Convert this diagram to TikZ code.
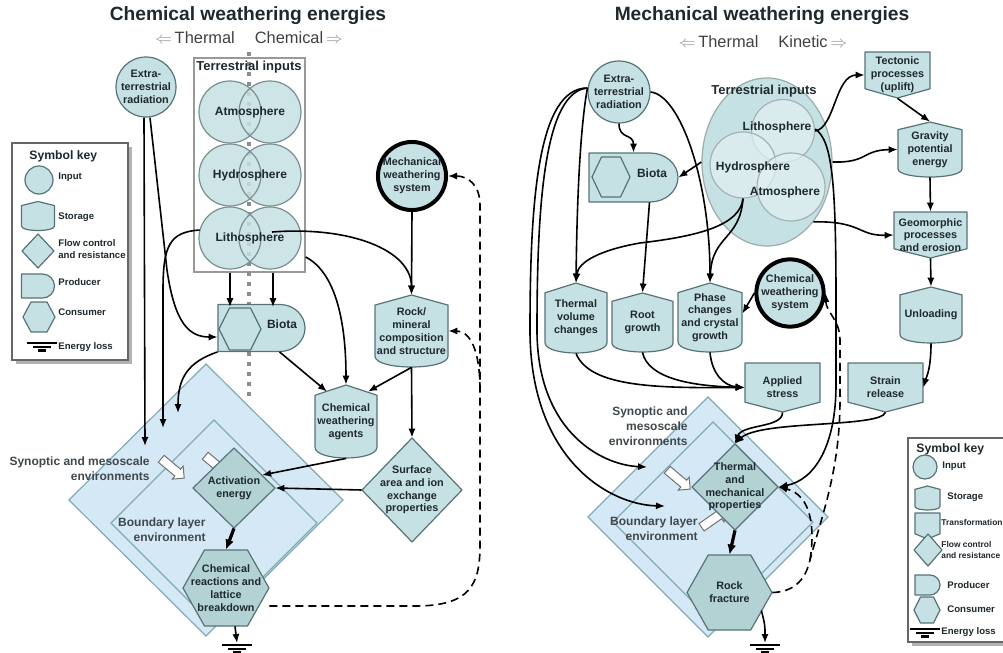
\documentclass[tikz,border=0pt]{standalone}
\usepackage{fontspec}
\setmainfont{Liberation Sans}
\usetikzlibrary{arrows.meta}
\usetikzlibrary{shapes.geometric,shapes.arrows}
\usetikzlibrary{calc}
\definecolor{blaugruen}{RGB}{198,225,228}
\definecolor{dunkelblaugruen}{RGB}{178,210,212}
\definecolor{hellblau}{RGB}{212,233,245}
\definecolor{randgrau}{RGB}{88,115,120}
\definecolor{umgebungsrand}{RGB}{130,170,180}
\definecolor{kugelweiss}{RGB}{226,240,241}
\definecolor{schrift}{RGB}{30,40,45}

% shapes: name, x, y, half width, half height, text
\newcommand{\wstorage}[6]{%
  \draw[teil] ({#2-#4},{#3-0.72*#5}) -- (#2,{#3-#5}) -- ({#2+#4},{#3-0.72*#5})
    -- ({#2+#4},{#3+0.7*#5}) .. controls ({#2+#4},{#3+0.9*#5}) and ({#2+0.5*#4},{#3+#5}) .. (#2,{#3+#5})
    .. controls ({#2-0.5*#4},{#3+#5}) and ({#2-#4},{#3+0.9*#5}) .. ({#2-#4},{#3+0.7*#5}) -- cycle;
  \node[lbl, minimum width=#4pt, minimum height=#5pt] (#1) at (#2,#3) {#6};}
\newcommand{\wtrans}[6]{%
  \draw[teil] ({#2-#4},{#3-#5}) -- ({#2+#4},{#3-#5}) -- ({#2+#4},{#3+0.6*#5}) -- (#2,{#3+#5})
    -- ({#2-#4},{#3+0.6*#5}) -- cycle;
  \node[lbl, minimum width=#4pt, minimum height=#5pt] (#1) at (#2,#3) {#6};}
\newcommand{\wcons}[7]{%
  \draw[#1] ({#3-#5},#4) -- ({#3-0.5*#5},{#4-#6}) -- ({#3+0.5*#5},{#4-#6}) -- ({#3+#5},#4)
    -- ({#3+0.5*#5},{#4+#6}) -- ({#3-0.5*#5},{#4+#6}) -- cycle;
  \node[lbl, minimum width=#5pt, minimum height=#6pt] (#2) at (#3,#4) {#7};}
\newcommand{\wflow}[7]{%
  \draw[#1] (#3,{#4-#6}) -- ({#3+#5},#4) -- (#3,{#4+#6}) -- ({#3-#5},#4) -- cycle;
  \node[lbl, minimum width=#5pt, minimum height=#6pt] (#2) at (#3,#4) {#7};}
\newcommand{\wprod}[7]{%
  \draw[teil] ({#2-#4},{#3-#5}) -- ({#2+#4-#6},{#3-#5})
    .. controls ({#2+#4-0.45*#6},{#3-#5}) and ({#2+#4},{#3-0.55*#5}) .. ({#2+#4},#3)
    .. controls ({#2+#4},{#3+0.55*#5}) and ({#2+#4-0.45*#6},{#3+#5}) .. ({#2+#4-#6},{#3+#5})
    -- ({#2-#4},{#3+#5}) -- cycle;
  \node[lbl, minimum width=#4pt, minimum height=#5pt] (#1) at (#2,#3) {#7};}
\newcommand{\winput}[6]{%
  \node[#1, circle, minimum size=#5pt, lbl] (#2) at (#3,#4) {#6};}
\newcommand{\wloss}[3]{%
  \coordinate (#1) at (#2,#3);
  \draw[line width=1.1pt] ({#2-15},{#3+2}) -- ({#2+15},{#3+2}) ({#2-9},{#3+6}) -- ({#2+9},{#3+6})
    ({#2-4},{#3+9.5}) -- ({#2+4},{#3+9.5});}

\begin{document}
\begin{tikzpicture}[x=0.5pt, y=-0.5pt,
  lbl/.style={font=\fontsize{5.4}{6.4}\selectfont\bfseries, align=center, text=schrift, inner sep=0pt},
  keylbl/.style={font=\fontsize{4.8}{5.8}\selectfont\bfseries, align=left, anchor=west, text=schrift, inner sep=0pt},
  sphlbl/.style={font=\fontsize{6}{7}\selectfont\bfseries, text=schrift, inner sep=0pt},
  envlbl/.style={font=\fontsize{6}{7.4}\selectfont\bfseries, align=right, anchor=east, text=schrift!85, inner sep=0pt},
  titel/.style={font=\fontsize{9.6}{11}\selectfont\bfseries, text=schrift},
  untertitel/.style={font=\fontsize{8.2}{10}\selectfont, text=black!75},
  teil/.style={draw=randgrau, fill=blaugruen, line width=0.6pt, line join=round},
  teildunkel/.style={draw=randgrau, fill=dunkelblaugruen, line width=0.6pt, line join=round},
  umgebung/.style={draw=umgebungsrand, fill=hellblau, line width=0.6pt},
  dick/.style={draw=black, fill=blaugruen, line width=2pt},
  kugel/.style={circle, draw=randgrau!55, fill=kugelweiss, fill opacity=0.7, inner sep=0pt, line width=0.6pt},
  pfeil/.style={-{Latex[length=4.5pt,width=3.6pt]}, line width=0.8pt},
  dickpfeil/.style={-{Latex[length=5pt,width=4.5pt]}, line width=1.6pt},
  rueck/.style={-{Latex[length=4.5pt,width=3.6pt]}, line width=0.8pt, dash pattern=on 4pt off 2.5pt},
  fluss/.style={single arrow, draw=black!55, fill=white, minimum height=15pt, inner sep=2pt,
    single arrow head extend=2pt, line width=0.5pt},
  ]
\useasboundingbox (0,0) rectangle (1003,653);
\clip (0,0) rectangle (1003,653);

%%%%% chemical weathering
\node[titel] (ctitel) at (248,16) {Chemical weathering energies};
\node[untertitel] (cunter) at (249,38) {\textcolor{black!40}{$\Leftarrow$}\,Thermal\hspace{10pt}Chemical\,\textcolor{black!40}{$\Rightarrow$}};

% symbol key
\fill[black!30] (16,147) rectangle (132,364);
\draw[draw=black!60, fill=white, line width=0.6pt] (12,143) rectangle (128,360);
\node[keylbl, font=\fontsize{6.1}{7}\selectfont\bfseries] (ckeytitel) at (29,156) {Symbol key};
\winput{teil}{ckinput}{39}{180}{14}{}
\node[keylbl] (ckinputt) at (58,177) {Input};
\wstorage{ckstorage}{38}{216}{16.5}{14.5}{}
\node[keylbl] (ckstoraget) at (58,217) {Storage};
\wflow{teil}{ckflow}{38}{251}{16}{17}{}
\node[keylbl] (ckflowt) at (58,249) {Flow control\\and resistance};
\wprod{ckprod}{38}{286}{16.5}{12}{12}{}
\node[keylbl] (ckprodt) at (58,282) {Producer};
\wcons{teil}{ckcons}{39}{317}{16}{15}{}
\node[keylbl] (ckconst) at (58,312) {Consumer};
\wloss{ckloss}{42}{341}
\node[keylbl] (cklosst) at (58,347) {Energy loss};

% environments
\wflow{umgebung}{cumwelt}{206}{500}{137}{136}{}
\wflow{umgebung}{cgrenz}{214}{523}{103}{103}{}
\node[envlbl] (csynlbl) at (150,469) {Synoptic and mesoscale\\environments};
\node[envlbl] (cgrenzlbl) at (206,530) {Boundary layer\\environment};
\node[fluss, rotate=-40] (cfluss1) at (171,467) {};
\node[fluss, rotate=-40] (cfluss2) at (215,464) {};

% terrestrial inputs
\node[draw=black!40, fill=white, line width=0.6pt, minimum width=55.5pt, minimum height=107pt, inner sep=0pt] (cterr) at (249.5,165) {};
\draw[black!45, line width=2pt, dash pattern=on 2pt off 3pt] (249,52) -- (249,398);
\node[sphlbl, font=\fontsize{6.5}{7.5}\selectfont\bfseries] (cterrlbl) at (249,67) {Terrestrial inputs};
\foreach \y in {112,175,238} {
  \fill[blaugruen, fill opacity=0.85] (230,\y) circle[radius=31] (270,\y) circle[radius=31];
}
\foreach \y in {112,175,238} {
  \draw[randgrau!80, line width=0.6pt] (230,\y) circle[radius=31] (270,\y) circle[radius=31];
}
\node[sphlbl, minimum width=50pt, minimum height=31pt] (catmo) at (250,112) {Atmosphere};
\node[sphlbl, minimum width=50pt, minimum height=31pt] (chydro) at (250,175) {Hydrosphere};
\node[sphlbl, minimum width=50pt, minimum height=31pt] (clitho) at (250,238) {Lithosphere};

% nodes
\winput{teil}{cextra}{146}{87}{30}{Extra-\\terrestrial\\radiation}
\winput{dick}{cmech}{412}{176}{34}{Mechanical\\weathering\\system}
\wstorage{crock}{411.5}{331}{36.5}{36}{Rock/\\mineral\\composition\\and structure}
\wstorage{cagents}{346}{421.5}{31}{36.5}{Chemical\\weathering\\agents}
\wflow{teil}{csurf}{412}{490}{50}{52}{Surface\\area and ion\\exchange\\properties}
\wflow{teildunkel}{cact}{234}{488}{41}{40}{Activation\\energy}
\wcons{teildunkel}{creact}{226}{588}{43}{38}{Chemical\\reactions and\\lattice\\breakdown}
\wprod{cbiota}{261.5}{328}{43.5}{23.5}{25}{}
\wcons{teil}{cbiotahex}{240}{329}{21}{21}{}
\node[sphlbl] (cbiotalbl) at (282,324) {Biota};
\wloss{cverlust}{237}{643}

% connectors
\coordinate (cziel1) at (145,446);
\coordinate (cziel2) at (163,428);
\coordinate (cziel3) at (178,413);
\draw[pfeil] ([xshift=-1pt]cextra.south) -- (cziel1);
\draw[pfeil] ([xshift=2pt]cextra.south) -- (167,270) .. controls (175,325) and (190,337) .. ([yshift=-4.5pt]cbiota.west);
\draw[pfeil] ([yshift=4pt]clitho.west) .. controls (170,232) and (163,245) .. (163,290) -- (cziel2);
\draw[pfeil] (cbiota.south west) .. controls (188,362) and (178,378) .. (cziel3);
\draw[pfeil] ([xshift=-9.75pt]cterr.south) -- ([xshift=-15.75pt,yshift=-1.5pt]cbiota.north);
\draw[pfeil] ([xshift=11.75pt]cterr.south) -- ([xshift=5.75pt,yshift=-1.5pt]cbiota.north);
\draw[pfeil] ([xshift=11pt,yshift=3pt]clitho.center) .. controls (350,226) and (411.5,250) .. (crock.north);
\draw[pfeil] ([yshift=-46pt]cterr.east) .. controls (335,272) and (346,320) .. (cagents.north);
\draw[pfeil] ([xshift=9pt]cbiota.south) -- ([xshift=-9.5pt,yshift=-3.5pt]cagents.north);
\draw[pfeil] (crock.south) -- ([xshift=11pt,yshift=-3.5pt]cagents.north);
\draw[pfeil] (crock.south) -- (csurf.north);
\draw[pfeil] (cmech.south) -- (crock.north);
\draw[pfeil] (cagents.south) -- ($(cact.north)!0.68!(cact.east)$);
\draw[pfeil] (csurf.west) -- (cact.east);
\draw[dickpfeil] (cact.south) -- (creact.north);
\draw[pfeil] ([xshift=4.5pt]creact.south) -- (cverlust);
\draw[rueck] ([yshift=-9pt]creact.east) -- (415,606) .. controls (470,606) and (480,585) .. (480,545) -- (480,205) .. controls (480,185) and (468,176) .. (cmech.east);
\coordinate (cabzweig) at (480,390);
\draw[rueck] (cabzweig) .. controls (480,350) and (470,331) .. (crock.east);

%%%%% mechanical weathering
\node[titel] (mtitel) at (762,16) {Mechanical weathering energies};
\node[untertitel] (munter) at (763,42) {\textcolor{black!40}{$\Leftarrow$}\,Thermal\hspace{10pt}Kinetic\,\textcolor{black!40}{$\Rightarrow$}};

% environments
\wflow{umgebung}{mumwelt}{708}{517}{120}{120}{}
\wflow{umgebung}{mgrenz}{713}{522}{100}{100}{}
\node[envlbl] (msynlbl) at (688,426) {Synoptic and\\mesoscale\\environments};
\node[envlbl] (mgrenzlbl) at (698,529) {Boundary layer\\environment};
\node[fluss, rotate=-40] (mfluss1) at (677,478) {};
\node[fluss, rotate=35] (mfluss2) at (712,520) {};

% terrestrial inputs
\node[ellipse, draw=randgrau!60, fill=blaugruen, line width=0.6pt, minimum width=65pt, minimum height=84pt, inner sep=0pt] (mterr) at (767,162) {};
\node[kugel, minimum size=31.5pt] (mlitho) at (783,131) {};
\node[kugel, minimum size=33pt] (mhydro) at (743,165) {};
\node[kugel, minimum size=34pt] (matmo) at (791,187) {};
\node[sphlbl, font=\fontsize{6.5}{7.5}\selectfont\bfseries] (mterrlbl) at (764,91) {Terrestrial inputs};
\node[sphlbl] (mlitholbl) at (777,127) {Lithosphere};
\node[sphlbl] (mhydrolbl) at (753,167) {Hydrosphere};
\node[sphlbl] (matmolbl) at (785,192) {Atmosphere};

% nodes
\winput{teil}{mextra}{619}{92}{31}{Extra-\\terrestrial\\radiation}
\wprod{mbiota}{633.5}{177.5}{44.5}{24.5}{28}{}
\wcons{teil}{mbiotahex}{611}{177}{19}{20}{}
\node[sphlbl] (mbiotalbl) at (652,173) {Biota};
\wtrans{mtect}{897.5}{75}{32.5}{23}{Tectonic\\processes\\(uplift)}
\wstorage{mgrav}{930}{149.5}{32}{27.5}{Gravity\\potential\\energy}
\wtrans{mgeo}{930.5}{235}{36.5}{23}{Geomorphic\\processes\\and erosion}
\wstorage{munload}{931}{315}{31}{28}{Unloading}
\wtrans{mstrain}{885.5}{387.5}{37.5}{24.5}{Strain\\release}
\wtrans{mstress}{782.5}{387.5}{37.5}{24.5}{Applied\\stress}
\wstorage{mthermal}{576}{318}{31}{35}{Thermal\\volume\\changes}
\wstorage{mroot}{642.5}{322.5}{30.5}{29.5}{Root\\growth}
\wstorage{mphase}{710}{317.5}{32}{34.5}{Phase\\changes\\and crystal\\growth}
\winput{dick}{mchem}{790}{293}{31}{Chemical\\weathering\\system}
\wflow{teildunkel}{mprop}{735}{487}{43}{43}{Thermal\\and\\mechanical\\properties}
\wcons{teildunkel}{mrock}{729.5}{592.5}{42.5}{37.5}{Rock\\fracture}
\wloss{mverlust}{765}{643}

% symbol key
\fill[black!30] (912,442) rectangle (1010,646);
\draw[draw=black!60, fill=white, line width=0.6pt] (908,438) rectangle (1010,642);
\node[keylbl, font=\fontsize{6.1}{7}\selectfont\bfseries] (mkeytitel) at (916,449) {Symbol key};
\winput{teil}{mkinput}{925}{467}{12}{}
\node[keylbl] (mkinputt) at (942,466) {Input};
\wstorage{mkstorage}{927.5}{498}{12.5}{12}{}
\node[keylbl] (mkstoraget) at (947,497) {Storage};
\wtrans{mktrans}{927.5}{526}{12.5}{13}{}
\node[keylbl, font=\fontsize{4.2}{5}\selectfont\bfseries] (mktranst) at (941,522) {Transformation};
\wflow{teil}{mkflow}{928}{550}{14}{16}{}
\node[keylbl, font=\fontsize{4.2}{5.8}\selectfont\bfseries] (mkflowt) at (941,550) {Flow control\\and resistance};
\wprod{mkprod}{927.5}{585}{12.5}{10}{10}{}
\node[keylbl] (mkprodt) at (947,585) {Producer};
\wcons{teil}{mkcons}{927}{610}{13}{13}{}
\node[keylbl] (mkconst) at (947,609) {Consumer};
\wloss{mkloss}{925}{627}
\node[keylbl] (mklosst) at (941,632) {Energy loss};

% connectors
\coordinate (mziel1) at (647,467);
\coordinate (mziel2) at (665,506);
\draw[pfeil] (mextra.south) .. controls (619,140) and (633.5,133) .. (mbiota.north);
\draw[pfeil] ([yshift=2pt]mextra.west) .. controls (580,130) and (577,200) .. (mthermal.north);
\draw[pfeil] ([yshift=2pt]mextra.west) .. controls (545,92) and (537,200) .. (537,330) .. controls (537,430) and (600,465) .. (mziel1);
\draw[pfeil] ([yshift=2pt]mextra.west) .. controls (538,88) and (530,200) .. (530,330) .. controls (530,460) and (610,505) .. (mziel2);
\draw[pfeil] (mextra.east) .. controls (680,95) and (710,180) .. (mphase.north);
\draw[pfeil] (mhydro.south) .. controls (740,225) and (700,236) .. (640,243) .. controls (600,250) and (578,262) .. (mthermal.north);
\draw[pfeil] (mhydro.south) .. controls (740,240) and (712,235) .. (mphase.north);
\draw[pfeil] (mterr.west) -- (mbiota.east);
\draw[pfeil] ([xshift=8pt]mbiota.south) -- (mroot.north);
\draw[pfeil] (mchem.west) -- ([yshift=2pt]mphase.east);
\draw[pfeil] (mlitho.east) .. controls (835,128) and (835,75) .. (mtect.west);
\draw[pfeil] (mtect.south) -- (mgrav.north);
\draw[pfeil] (mterr.east) .. controls (868,163) and (862,150) .. (mgrav.west);
\draw[pfeil] (mgrav.south) -- (mgeo.north);
\draw[pfeil] (mterr.south east) .. controls (862,221) and (858,236) .. (mgeo.west);
\draw[pfeil] (mgeo.south) -- (munload.north);
\draw[pfeil] (munload.south) .. controls (931,370) and (926,378) .. (mstrain.east);
\draw[pfeil] (mstress.south) .. controls (783,428) and (742,424) .. (mprop.north);
\draw[pfeil] (mstrain.south) .. controls (880,428) and (760,420) .. (mprop.north);
\draw[pfeil] (mthermal.south) .. controls (590,388) and (660,388) .. (mstress.west);
\draw[pfeil] (mroot.south) .. controls (648,378) and (690,386) .. (mstress.west);
\draw[pfeil] (mphase.south) .. controls (712,375) and (725,386) .. (mstress.west);
\draw[pfeil] ([yshift=1pt]mlitho.east) .. controls (832,140) and (836,180) .. (836,300) -- (836,385) .. controls (836,445) and (815,480) .. (mprop.east);
\draw[dickpfeil] (mprop.south) -- (mrock.north);
\draw[pfeil] ([xshift=-5.5pt,yshift=-9pt]mrock.east) .. controls (765,625) .. (mverlust);
\draw[rueck] (mrock.east) .. controls (792,592) and (805,582) .. (810,560) .. controls (822,515) and (840,470) .. (840,400) -- (840,340) .. controls (840,320) and (826,312) .. (mchem.east);
\coordinate (mabzweig) at (810,560);
\draw[rueck] (mabzweig) .. controls (815,530) and (812,495) .. (mprop.east);
\end{tikzpicture}
\end{document}
